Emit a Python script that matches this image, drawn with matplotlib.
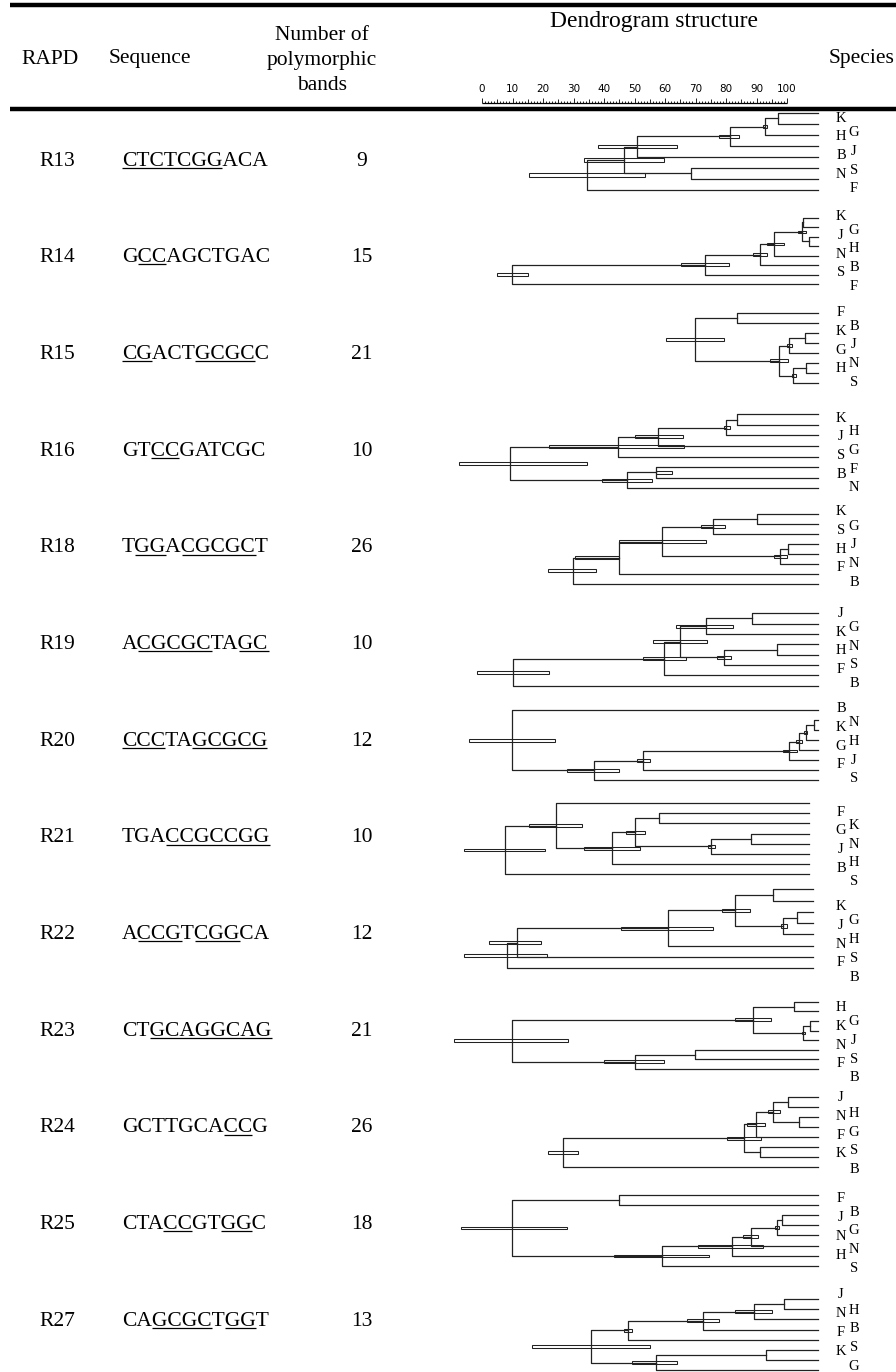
import numpy as np
import matplotlib
matplotlib.use("Agg")
import matplotlib.pyplot as plt
from matplotlib.patches import Rectangle
from matplotlib.textpath import TextToPath
from matplotlib.font_manager import FontProperties

plt.rcParams['font.family'] = ['Liberation Serif', 'DejaVu Serif']

W, H, DPI = 896, 1372, 100

# ---------------- data ----------------
rapd = ['R13', 'R14', 'R15', 'R16', 'R18', 'R19', 'R20', 'R21', 'R22', 'R23', 'R24', 'R25', 'R27']
sequences = ['CTCTCGGACA', 'GCCAGCTGAC', 'CGACTGCGCC', 'GTCCGATCGC', 'TGGACGCGCT',
             'ACGCGCTAGC', 'CCCTAGCGCG', 'TGACCGCCGG', 'ACCGTCGGCA', 'CTGCAGGCAG',
             'GCTTGCACCG', 'CTACCGTGGC', 'CAGCGCTGGT']
underlined = [[(0, 7)], [(1, 3)], [(0, 2), (5, 9)], [(2, 4)], [(1, 3), (4, 9)],
              [(1, 6), (8, 10)], [(0, 3), (5, 10)], [(3, 10)], [(1, 4), (5, 8)],
              [(2, 10)], [(7, 9)], [(3, 5), (7, 9)], [(2, 6), (7, 9)]]
bands = [9, 15, 21, 10, 26, 10, 12, 10, 12, 21, 26, 18, 13]

species_left = [['K', 'H', 'B', 'N'], ['K', 'J', 'N', 'S'], ['F', 'K', 'G', 'H'], ['K', 'J', 'S', 'B'],
                ['K', 'S', 'H', 'F'], ['J', 'K', 'H', 'F'], ['B', 'K', 'G', 'F'], ['F', 'G', 'J', 'B'],
                ['K', 'J', 'N', 'F'], ['H', 'K', 'N', 'F'], ['J', 'N', 'F', 'K'], ['F', 'J', 'N', 'H'],
                ['J', 'N', 'F', 'K']]
species_right = [['G', 'J', 'S', 'F'], ['G', 'H', 'B', 'F'], ['B', 'J', 'N', 'S'], ['H', 'G', 'F', 'N'],
                 ['G', 'J', 'N', 'B'], ['G', 'N', 'S', 'B'], ['N', 'H', 'J', 'S'], ['K', 'N', 'H', 'S'],
                 ['G', 'H', 'S', 'B'], ['G', 'J', 'S', 'B'], ['H', 'G', 'S', 'B'], ['B', 'G', 'N', 'S'],
                 ['H', 'B', 'S', 'G']]

# dendrogram merges: (child_a, child_b, node_value, bar_low, bar_high); leaves 0-7 top->bottom
tree_R13 = [(0, 1, 97.2, None, None), (8, 2, 92.8, 92.2, 93.6), (9, 3, 81.3, 77.8, 84.4),
            (10, 4, 50.9, 37.9, 63.8), (5, 6, 68.5, None, None), (11, 12, 46.6, 33.6, 59.8),
            (13, 7, 34.5, 15.5, 53.4)]
tree_R14 = [(0, 1, 105.4, None, None), (2, 3, 107.3, None, None), (8, 9, 105.0, 103.7, 106.1),
            (10, 4, 95.9, 93.3, 99.0), (11, 5, 91.2, 89.0, 93.3), (12, 6, 73.1, 65.1, 81.1),
            (13, 7, 9.9, 4.8, 15.2)]
tree_R15 = [(0, 1, 83.7, None, None), (2, 3, 105.9, None, None), (9, 4, 100.7, 100.1, 101.5),
            (5, 6, 106.2, None, None), (11, 7, 101.9, 101.5, 103.0), (10, 12, 97.4, 94.4, 100.4),
            (8, 13, 69.8, 60.2, 79.5)]
tree_R16 = [(0, 1, 83.7, None, None), (8, 2, 80.0, 79.5, 81.3), (9, 3, 57.8, 50.2, 66.0),
            (10, 4, 44.5, 22.1, 66.3), (5, 6, 56.9, 56.9, 62.4), (12, 7, 47.7, 39.2, 55.9),
            (11, 13, 9.2, -7.4, 34.3)]
tree_R18 = [(0, 1, 90.3, None, None), (8, 2, 75.6, 71.7, 79.7), (3, 4, 100.4, None, None),
            (10, 5, 97.7, 95.9, 99.9), (9, 11, 59.1, 44.9, 73.4), (12, 6, 44.9, 30.5, 44.9),
            (13, 7, 29.7, 21.8, 37.3)]
tree_R19 = [(0, 1, 88.6, None, None), (8, 2, 73.3, 63.6, 82.4), (3, 4, 96.6, None, None),
            (10, 5, 79.3, 76.9, 81.6), (9, 11, 64.9, 56.2, 73.7), (12, 6, 59.7, 52.7, 66.8),
            (13, 7, 10.1, -1.8, 22.0)]
tree_R20 = [(1, 2, 108.9, None, None), (8, 3, 106.1, 105.6, 106.7), (9, 4, 103.9, 102.9, 105.0),
            (10, 5, 100.8, 98.6, 103.2), (11, 6, 52.9, 50.7, 55.1), (12, 7, 36.7, 28.0, 45.0),
            (0, 13, 9.9, -4.2, 24.0)]
tree_R21 = [(1, 2, 58.1, None, None), (3, 4, 88.2, None, None), (9, 5, 75.1, 74.0, 76.4),
            (8, 10, 50.0, 47.1, 53.4), (11, 6, 42.5, 33.4, 51.8), (0, 12, 24.2, 15.4, 32.9),
            (13, 7, 7.5, -5.8, 20.7)]
tree_R22 = [(0, 1, 95.3, None, None), (2, 3, 103.2, None, None), (9, 4, 98.8, 97.9, 100.1),
            (8, 10, 83.0, 78.6, 87.9), (11, 5, 60.9, 45.6, 75.9), (12, 6, 11.4, 2.2, 19.3),
            (13, 7, 8.3, -5.8, 21.2)]
tree_R23 = [(0, 1, 102.3, None, None), (2, 3, 107.5, None, None), (9, 4, 105.4, 104.8, 105.9),
            (8, 10, 89.0, 83.0, 94.8), (5, 6, 69.8, None, None), (12, 7, 50.0, 40.0, 59.8),
            (11, 13, 9.7, -9.2, 28.1)]
tree_R24 = [(0, 1, 100.4, None, None), (2, 3, 103.9, None, None), (8, 9, 95.5, 93.7, 97.7),
            (10, 4, 89.8, 86.8, 92.8), (5, 6, 91.2, None, None), (11, 12, 85.9, 80.2, 91.5),
            (13, 7, 26.7, 21.8, 31.6)]
tree_R25 = [(0, 1, 45.0, None, None), (2, 3, 98.5, None, None), (9, 4, 96.6, 96.1, 97.5),
            (10, 5, 88.1, 85.7, 90.6), (11, 6, 81.9, 70.9, 92.2), (12, 7, 59.1, 43.3, 74.5),
            (8, 13, 9.7, -7.0, 28.0)]
tree_R27 = [(0, 1, 99.1, None, None), (8, 2, 89.2, 83.0, 95.2), (9, 3, 72.6, 67.3, 77.8),
            (10, 4, 48.0, 46.7, 49.3), (5, 6, 93.1, None, None), (12, 7, 56.9, 49.3, 63.8),
            (11, 13, 35.7, 16.5, 55.1)]
trees = [tree_R13, tree_R14, tree_R15, tree_R16, tree_R18, tree_R19, tree_R20,
         tree_R21, tree_R22, tree_R23, tree_R24, tree_R25, tree_R27]
leaf_value = [110, 110, 110, 110, 110, 110, 110, 107.2, 108.6, 110, 110, 110, 110]

# ---------------- layout (pixels) ----------------
row_y = [158 + 96.7 * i for i in range(13)]
leaf_top = [112.7, 217.7, 313.3, 414.3, 514.3, 613.3, 710.3, 803, 889.3, 1001.7, 1096.7, 1195, 1299]
leaf_bot = [190, 284.3, 383, 488.3, 583.7, 685.7, 780.3, 874.3, 968.3, 1069, 1167.3, 1265.7, 1370.3]
lab_left_top = [118.3, 216.7, 312.7, 418.3, 511.7, 613.3, 708.7, 812, 906.7, 1007.7, 1097.7, 1199, 1295]
lab_right_top = [132.7, 230, 326, 431.7, 526, 627.3, 722.7, 825.3, 921, 1021.7, 1113.3, 1212.3, 1310]
LAB_STEP = 18.7
DX0, DX1 = 430, 896
RULER_PX0, RULER_PX_PER = 482.0, 3.05
ulim = ((DX0 - RULER_PX0) / RULER_PX_PER, (DX1 - RULER_PX0) / RULER_PX_PER)
LINE_C = '#222222'

fig = plt.figure(figsize=(W / DPI, H / DPI), dpi=DPI)
ov = fig.add_axes([0, 0, 1, 1])
ov.set_xlim(0, W)
ov.set_ylim(H, 0)
ov.axis('off')

FS = 15.5
# rules
ov.plot([10, W], [5, 5], color='black', lw=3.2, solid_capstyle='butt')
ov.plot([10, W], [108.5, 108.5], color='black', lw=3.2, solid_capstyle='butt')

# header
ov.text(50, 59, 'RAPD', ha='center', va='center', fontsize=FS)
ov.text(150, 59, 'Sequence', ha='center', va='center', fontsize=FS)
ov.text(322, 35, 'Number of', ha='center', va='center', fontsize=FS)
ov.text(322, 60, 'polymorphic', ha='center', va='center', fontsize=FS)
ov.text(322, 85, 'bands', ha='center', va='center', fontsize=FS)
ov.text(654, 22, 'Dendrogram structure', ha='center', va='center', fontsize=17)
ov.text(862, 59, 'Species', ha='center', va='center', fontsize=FS)

# ruler
rax = fig.add_axes([DX0 / W, 1 - 106 / H, (DX1 - DX0) / W, 30 / H])
rax.set_xlim(*ulim)
rax.set_ylim(0, 30)
rax.axis('off')
ticks = np.arange(0, 101)
hts = np.where(ticks % 10 == 0, 5.5, np.where(ticks % 5 == 0, 4, 2.5))
rax.vlines(ticks, 3, 3 + hts, color='black', lw=0.6)
rax.hlines(3, 0, 100, color='black', lw=0.9)
for t in range(0, 101, 10):
    rax.text(t, 12, str(t), ha='center', va='bottom', fontsize=7.5,
             family=['Liberation Sans Narrow', 'DejaVu Sans'])

# rows
ttp = TextToPath()
fp = FontProperties(family=['Liberation Serif', 'DejaVu Serif'], size=FS)


def text_w(s):
    if not s:
        return 0.0
    w, h, d = ttp.get_text_width_height_descent(s, fp, ismath=False)
    return w * DPI / 72.0


SEQ_X = 122
for i in range(13):
    yb = row_y[i] + 7.5
    ov.text(57, yb, rapd[i], ha='center', va='baseline', fontsize=FS)
    ov.text(SEQ_X, yb, sequences[i], ha='left', va='baseline', fontproperties=fp)
    ov.text(362, yb, str(bands[i]), ha='center', va='baseline', fontsize=FS)
    s = sequences[i]
    for a, b in underlined[i]:
        x0 = SEQ_X + text_w(s[:a + 1]) - text_w(s[a]) if a > 0 else SEQ_X
        x1 = SEQ_X + text_w(s[:b])
        ov.plot([x0, x1], [yb + 2.2, yb + 2.2], color='black', lw=0.9, solid_capstyle='butt')

    # species labels
    for k in range(4):
        ov.text(841, lab_left_top[i] + LAB_STEP * k, species_left[i][k],
                ha='center', va='center', fontsize=10.5)
        ov.text(854, lab_right_top[i] + LAB_STEP * k, species_right[i][k],
                ha='center', va='center', fontsize=10.5)

    # dendrogram
    sp = (leaf_bot[i] - leaf_top[i]) / 7.0
    y0 = leaf_top[i] - sp / 2
    y1 = leaf_bot[i] + sp / 2
    ax = fig.add_axes([DX0 / W, 1 - y1 / H, (DX1 - DX0) / W, (y1 - y0) / H])
    ax.set_xlim(*ulim)
    ax.set_ylim(7.5, -0.5)
    ax.axis('off')
    pos = {j: (leaf_value[i], float(j)) for j in range(8)}
    for m, (a, b, hgt, lo, hi) in enumerate(trees[i]):
        xa, ya = pos[a]
        xb, yb2 = pos[b]
        ax.plot([xa, hgt, hgt, xb], [ya, ya, yb2, yb2], color=LINE_C, lw=0.9)
        ny = (ya + yb2) / 2
        pos[8 + m] = (hgt, ny)
        if lo is not None:
            ax.add_patch(Rectangle((lo, ny - 0.14), hi - lo, 0.28, facecolor='none',
                                   edgecolor=LINE_C, lw=0.75, zorder=3))

fig.savefig('out.png', dpi=DPI)
